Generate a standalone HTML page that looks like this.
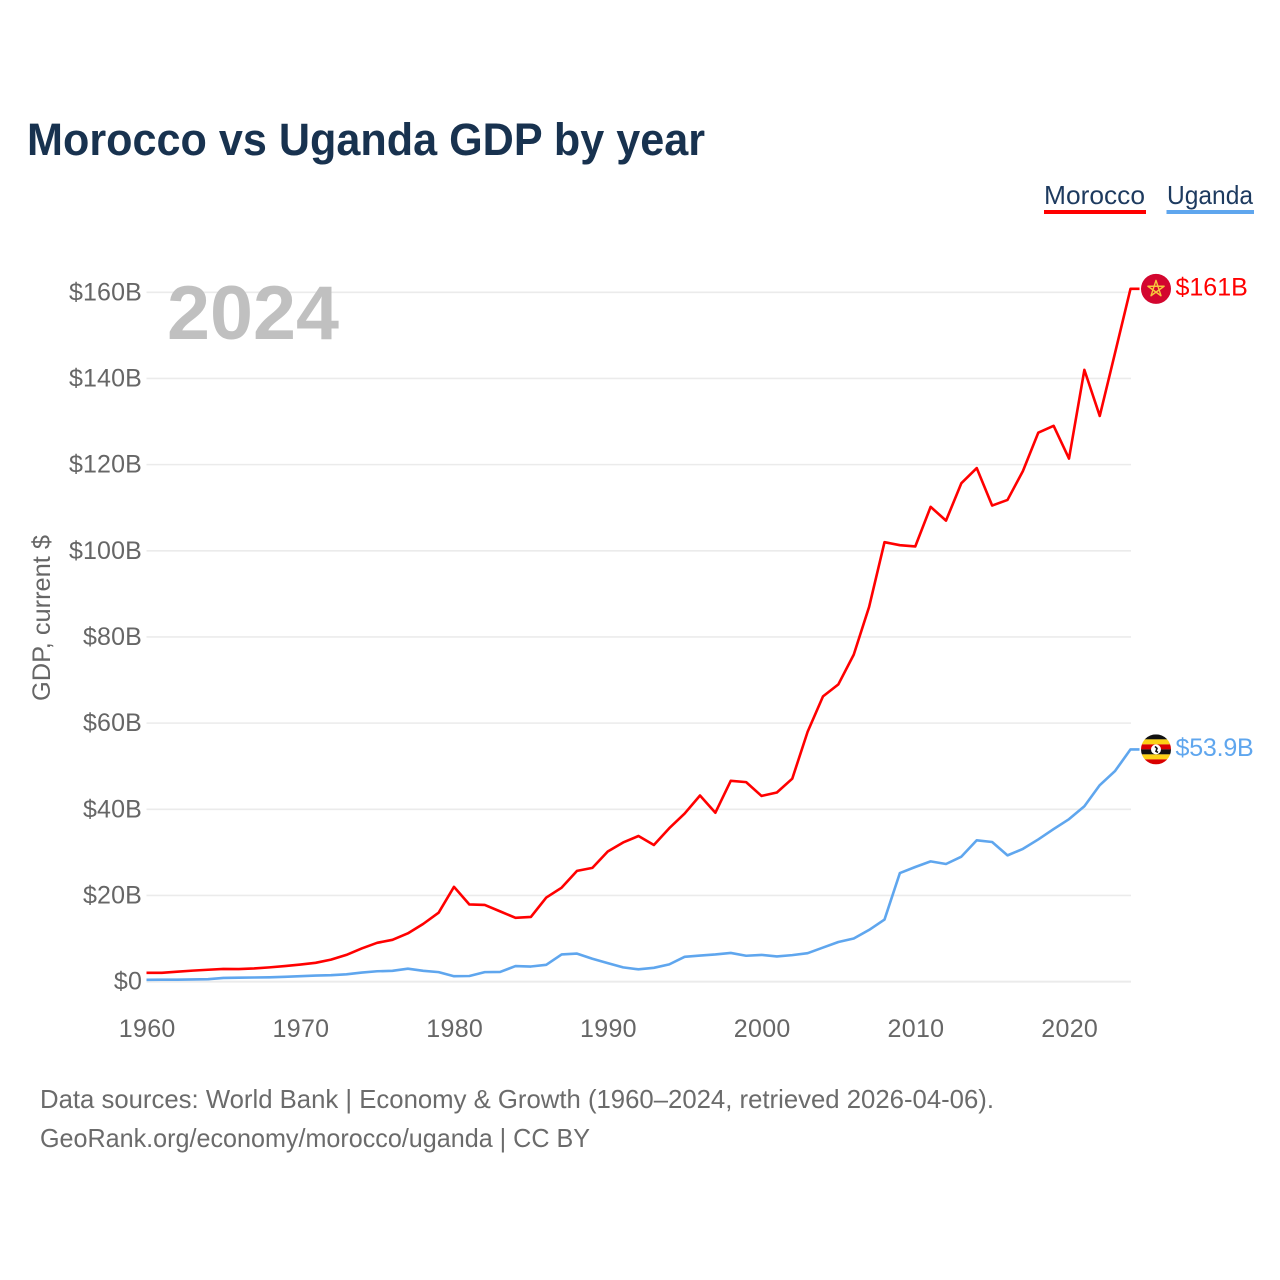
<!DOCTYPE html>
<html lang="en">
<head>
<meta charset="utf-8">
<title>Morocco vs Uganda GDP by year</title>
<style>
html,body{margin:0;padding:0;background:#fff;width:1280px;height:1280px;overflow:hidden}
svg{display:block}
text{font-family:"Liberation Sans",sans-serif}
</style>
</head>
<body>
<svg id="chart" xmlns="http://www.w3.org/2000/svg" width="1280" height="1280" viewBox="0 0 1280 1280">
  <defs>
    <clipPath id="ug-clip"><circle cx="0" cy="0" r="15"/></clipPath>
  </defs>
  <rect width="1280" height="1280" fill="#fff"/>
  <text x="27" y="155" font-size="45" font-weight="700" fill="#18324f" textLength="678" lengthAdjust="spacingAndGlyphs">Morocco vs Uganda GDP by year</text>

  <text x="1044" y="204" font-size="26" fill="#1d3a5f" textLength="101" lengthAdjust="spacingAndGlyphs">Morocco</text>
  <rect x="1044" y="210" width="102" height="4" fill="#ff0000"/>
  <text x="1167" y="204" font-size="26" fill="#1d3a5f" textLength="86" lengthAdjust="spacingAndGlyphs">Uganda</text>
  <rect x="1166.5" y="210" width="87.5" height="4" fill="#5fa6ee"/>

  <g id="grid"></g>
  <g id="y-ticks"></g>
  <g id="x-ticks"></g>

  <text transform="translate(50,701) rotate(-90)" font-size="25" fill="#666" textLength="166" lengthAdjust="spacingAndGlyphs">GDP, current $</text>
  <text x="167" y="339" font-size="76" font-weight="700" fill="#c0c0c0" textLength="172" lengthAdjust="spacingAndGlyphs">2024</text>

  <g id="series"></g>

  <g id="flag-morocco">
    <circle r="15" fill="#d3062f"/>
    <polygon points="0,-8.5 5,6.9 -8.1,-2.6 8.1,-2.6 -5,6.9" fill="none" stroke="#f6c63c" stroke-width="1.4" stroke-linejoin="round"/>
  </g>
  <g id="flag-uganda">
    <g clip-path="url(#ug-clip)">
      <rect x="-15" y="-15" width="30" height="5" fill="#111"/>
      <rect x="-15" y="-10" width="30" height="5" fill="#fcd116"/>
      <rect x="-15" y="-5" width="30" height="5" fill="#d90000"/>
      <rect x="-15" y="0" width="30" height="5" fill="#111"/>
      <rect x="-15" y="5" width="30" height="5" fill="#fcd116"/>
      <rect x="-15" y="10" width="30" height="5" fill="#d90000"/>
    </g>
    <circle r="5" fill="#fff"/>
    <path d="M-1,-3 L1,-1 L0,2 L2,3" fill="none" stroke="#111" stroke-width="1.6"/>
  </g>

  <g id="end-labels"></g>

  <text x="40" y="1108" font-size="26" fill="#6b6b6b" textLength="954" lengthAdjust="spacingAndGlyphs">Data sources: World Bank | Economy &amp; Growth (1960–2024, retrieved 2026-04-06).</text>
  <a><text x="40" y="1147" font-size="26" fill="#6b6b6b" textLength="550" lengthAdjust="spacingAndGlyphs">GeoRank.org/economy/morocco/uganda | CC BY</text></a>
</svg>

<script>
const years = [1960,1961,1962,1963,1964,1965,1966,1967,1968,1969,1970,1971,1972,1973,1974,1975,1976,1977,1978,1979,1980,1981,1982,1983,1984,1985,1986,1987,1988,1989,1990,1991,1992,1993,1994,1995,1996,1997,1998,1999,2000,2001,2002,2003,2004,2005,2006,2007,2008,2009,2010,2011,2012,2013,2014,2015,2016,2017,2018,2019,2020,2021,2022,2023,2024];
const moroccoGdp = [2.04,2.04,2.3,2.55,2.75,2.95,2.9,3.05,3.3,3.6,3.96,4.36,5.1,6.2,7.7,9.0,9.7,11.2,13.4,16.0,22.0,17.9,17.8,16.3,14.8,15.0,19.5,21.8,25.7,26.4,30.2,32.3,33.8,31.7,35.6,39.0,43.2,39.2,46.6,46.3,43.1,43.9,47.1,58.0,66.2,69.0,75.9,87.0,102.0,101.3,101.0,110.2,107.0,115.7,119.2,110.5,111.8,118.5,127.4,129.0,121.4,142.0,131.3,146.0,160.8];
const ugandaGdp = [0.42,0.45,0.45,0.5,0.55,0.85,0.9,0.95,1.0,1.1,1.25,1.4,1.5,1.7,2.1,2.4,2.5,3.0,2.5,2.2,1.25,1.3,2.2,2.25,3.6,3.5,3.9,6.3,6.5,5.3,4.3,3.3,2.85,3.2,4.0,5.75,6.05,6.3,6.65,6.0,6.2,5.85,6.15,6.6,7.9,9.2,10.0,12.0,14.4,25.2,26.6,27.9,27.3,29.0,32.8,32.4,29.3,30.8,33.0,35.4,37.7,40.7,45.6,48.9,53.9];
const yTickValues = [0,20,40,60,80,100,120,140,160];
const xTickYears = [1960,1970,1980,1990,2000,2010,2020];
const moroccoEndLabel = "$161B";
const ugandaEndLabel = "$53.9B";

const NS = "http://www.w3.org/2000/svg";
const xScale = function (year) { return 146.5 + (year - 1960) * (984 / 64); };
const yScale = function (value) { return 981.6 - value * (689.3 / 160); };
const make = function (tag) { return document.createElementNS(NS, tag); };

const gridGroup = document.getElementById("grid");
const yTickGroup = document.getElementById("y-ticks");
yTickValues.forEach(function (v) {
  const line = make("line");
  
  
  line.setAttribute("x1", xScale(1960));
  line.setAttribute("x2", xScale(2024) + 0.5);
  line.setAttribute("y1", yScale(v));
  line.setAttribute("y2", yScale(v));
  line.setAttribute("stroke", "#ebebeb");
  line.setAttribute("stroke-width", v === 0 ? 2 : 1.6);
  gridGroup.appendChild(line);

  const label = make("text");
  
  
  label.setAttribute("x", 142);
  label.setAttribute("y", yScale(v) + 8);
  label.setAttribute("text-anchor", "end");
  label.setAttribute("font-size", "25");
  label.setAttribute("letter-spacing", "0.15");
  label.setAttribute("fill", "#666");
  label.textContent = v === 0 ? "$0" : "$" + v + "B";
  yTickGroup.appendChild(label);
});

const xTickGroup = document.getElementById("x-ticks");
xTickYears.forEach(function (yr) {
  const label = make("text");
  
  
  label.setAttribute("x", xScale(yr) + 0.7);
  label.setAttribute("y", 1037);
  label.setAttribute("text-anchor", "middle");
  label.setAttribute("font-size", "25");
  label.setAttribute("letter-spacing", "0.3");
  label.setAttribute("fill", "#666");
  label.textContent = String(yr);
  xTickGroup.appendChild(label);
});

const linePoints = function (values) {
  const pts = values.map(function (v, i) { return xScale(years[i]).toFixed(2) + "," + yScale(v).toFixed(2); });
  const last = values[values.length - 1];
  pts.push((xScale(years[years.length - 1]) + 9).toFixed(2) + "," + yScale(last).toFixed(2));
  return pts.join(" ");
};

const seriesGroup = document.getElementById("series");

const ugandaLine = make("polyline");


ugandaLine.setAttribute("points", linePoints(ugandaGdp));
ugandaLine.setAttribute("fill", "none");
ugandaLine.setAttribute("stroke", "#5fa6ee");
ugandaLine.setAttribute("stroke-width", "2.6");
ugandaLine.setAttribute("stroke-linejoin", "round");
seriesGroup.appendChild(ugandaLine);

const moroccoLine = make("polyline");


moroccoLine.setAttribute("points", linePoints(moroccoGdp));
moroccoLine.setAttribute("fill", "none");
moroccoLine.setAttribute("stroke", "#ff0000");
moroccoLine.setAttribute("stroke-width", "2.6");
moroccoLine.setAttribute("stroke-linejoin", "round");
seriesGroup.appendChild(moroccoLine);

const moroccoEndY = yScale(moroccoGdp[moroccoGdp.length - 1]);
const ugandaEndY = yScale(ugandaGdp[ugandaGdp.length - 1]);
document.getElementById("flag-morocco").setAttribute("transform", "translate(1156," + moroccoEndY + ")");
document.getElementById("flag-uganda").setAttribute("transform", "translate(1156," + ugandaEndY + ")");

const endGroup = document.getElementById("end-labels");

const moroccoLabel = make("text");


moroccoLabel.setAttribute("x", 1175.5);
moroccoLabel.setAttribute("y", moroccoEndY + 6.5);
moroccoLabel.setAttribute("font-size", "25");
moroccoLabel.setAttribute("fill", "#ff0000");
moroccoLabel.textContent = moroccoEndLabel;
endGroup.appendChild(moroccoLabel);

const ugandaLabel = make("text");


ugandaLabel.setAttribute("x", 1175.5);
ugandaLabel.setAttribute("y", ugandaEndY + 6.5);
ugandaLabel.setAttribute("font-size", "25");
ugandaLabel.setAttribute("letter-spacing", "-0.2");
ugandaLabel.setAttribute("fill", "#5fa6ee");
ugandaLabel.textContent = ugandaEndLabel;
endGroup.appendChild(ugandaLabel);
</script>
</body>
</html>
